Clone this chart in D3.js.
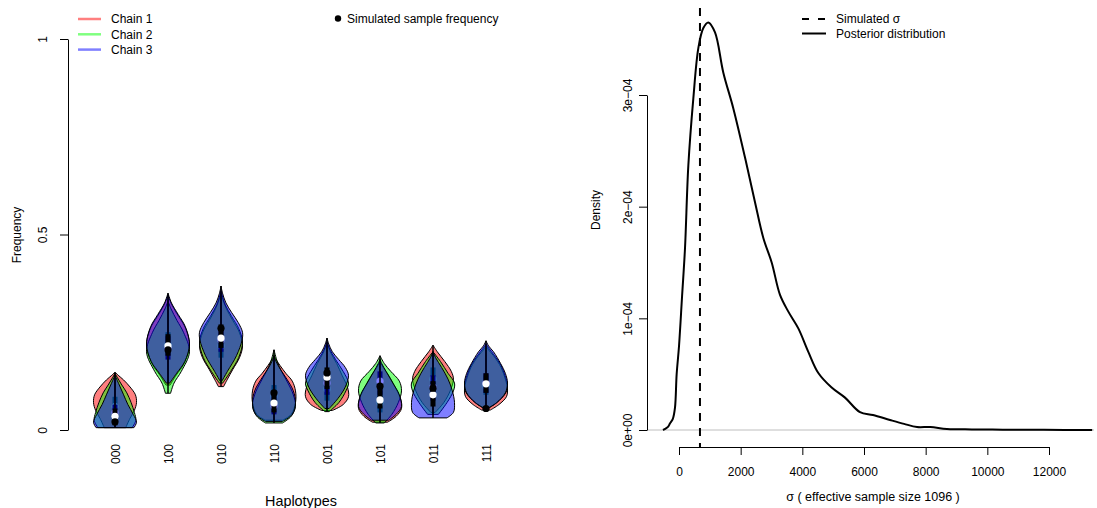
<!DOCTYPE html>
<html>
<head>
<meta charset="utf-8">
<script src="https://cdn.jsdelivr.net/npm/d3@7"></script>
<style>
  body { margin: 0; background: #fff; }
  text { font-family: "Liberation Sans", Arial, sans-serif; font-size: 12px; fill: #000; }
</style>
</head>
<body>
<script>
// haplotype categories and simulated sample frequency
const haplotypes = ['000', '100', '010', '110', '001', '101', '011', '111']
const simFreq = [0.021, 0.205, 0.26, 0.095, 0.146, 0.112, 0.107, 0.055]
const freqTicks = [0, 0.5, 1]
const freqTickLabels = ['0', '0.5', '1']

// violin outlines per chain: [frequency, relative half width]
const chain1Violins = [
  [[0.006,0.5],[0.03,0.7],[0.05,0.9],[0.07,1],[0.09,0.95],[0.11,0.7],[0.128,0.4],[0.14,0.15],[0.148,0]],
  [[0.115,0.1],[0.14,0.38],[0.17,0.75],[0.215,1],[0.26,0.82],[0.29,0.5],[0.32,0.18],[0.345,0]],
  [[0.111,0.12],[0.13,0.3],[0.155,0.55],[0.185,0.86],[0.215,1],[0.25,0.85],[0.28,0.55],[0.31,0.25],[0.335,0.08],[0.35,0]],
  [[0.025,0.4],[0.04,0.8],[0.07,1],[0.1,1],[0.125,0.85],[0.145,0.55],[0.165,0.28],[0.18,0.1],[0.19,0]],
  [[0.05,0.25],[0.065,0.75],[0.085,1],[0.11,0.95],[0.14,0.7],[0.17,0.45],[0.2,0.15],[0.225,0]],
  [[0.02,0.35],[0.035,0.75],[0.055,1],[0.08,0.95],[0.11,0.7],[0.14,0.4],[0.16,0.15],[0.175,0]],
  [[0.045,0.1],[0.07,0.5],[0.1,0.8],[0.13,0.95],[0.15,0.85],[0.175,0.55],[0.2,0.2],[0.217,0]],
  [[0.051,0.2],[0.065,0.6],[0.085,0.95],[0.105,1],[0.13,0.9],[0.16,0.7],[0.19,0.35],[0.205,0.12],[0.215,0]]
]
const chain2Violins = [
  [[0.006,0.8],[0.025,0.97],[0.045,0.9],[0.07,0.75],[0.095,0.55],[0.115,0.32],[0.135,0.1],[0.145,0]],
  [[0.094,0.12],[0.12,0.28],[0.15,0.62],[0.2,1],[0.25,0.72],[0.28,0.42],[0.31,0.14],[0.33,0]],
  [[0.12,0.08],[0.15,0.45],[0.185,0.82],[0.225,1],[0.26,0.82],[0.29,0.5],[0.32,0.2],[0.345,0.05],[0.355,0]],
  [[0.018,0.4],[0.035,0.8],[0.06,1],[0.09,0.9],[0.12,0.65],[0.15,0.35],[0.175,0.15],[0.205,0]],
  [[0.047,0.1],[0.07,0.55],[0.1,0.88],[0.12,1],[0.15,0.75],[0.18,0.4],[0.21,0.1],[0.225,0]],
  [[0.018,0.2],[0.04,0.55],[0.07,0.85],[0.1,1],[0.125,0.9],[0.15,0.5],[0.17,0.2],[0.19,0]],
  [[0.04,0.25],[0.07,0.65],[0.1,0.95],[0.12,1],[0.145,0.7],[0.175,0.35],[0.2,0]],
  [[0.055,0.1],[0.07,0.5],[0.095,0.92],[0.115,1],[0.14,0.88],[0.165,0.7],[0.19,0.4],[0.21,0.12],[0.22,0]]
]
const chain3Violins = [
  [[0.006,0.88],[0.02,1],[0.04,0.85],[0.065,0.6],[0.09,0.4],[0.115,0.2],[0.14,0]],
  [[0.12,0.08],[0.145,0.4],[0.175,0.78],[0.22,1],[0.265,0.8],[0.295,0.48],[0.325,0.16],[0.35,0]],
  [[0.125,0.04],[0.15,0.3],[0.19,0.72],[0.23,0.98],[0.25,1],[0.275,0.8],[0.3,0.5],[0.325,0.23],[0.35,0.07],[0.368,0]],
  [[0.022,0.4],[0.04,0.85],[0.07,1],[0.1,0.9],[0.13,0.6],[0.155,0.3],[0.175,0.1],[0.19,0]],
  [[0.055,0.1],[0.08,0.5],[0.11,0.85],[0.14,1],[0.16,0.85],[0.18,0.55],[0.2,0.25],[0.22,0.08],[0.235,0]],
  [[0.025,0.4],[0.04,0.75],[0.06,1],[0.09,0.9],[0.12,0.6],[0.15,0.28],[0.17,0.08],[0.18,0]],
  [[0.031,0.65],[0.045,0.95],[0.07,1],[0.1,0.9],[0.13,0.7],[0.16,0.4],[0.185,0.12],[0.2,0]],
  [[0.056,0.1],[0.07,0.5],[0.095,0.9],[0.12,1],[0.145,0.9],[0.17,0.68],[0.2,0.35],[0.215,0.12],[0.228,0]]
]

// box per chain: [q1, median, q3]
const chain1Boxes = [[0.04,0.06,0.085],[0.19,0.218,0.25],[0.185,0.215,0.245],[0.055,0.085,0.115],
  [0.075,0.105,0.14],[0.045,0.07,0.1],[0.09,0.13,0.16],[0.09,0.112,0.14]]
const chain2Boxes = [[0.02,0.045,0.065],[0.18,0.208,0.24],[0.2,0.23,0.26],[0.04,0.062,0.095],
  [0.09,0.12,0.15],[0.09,0.125,0.15],[0.075,0.11,0.14],[0.095,0.12,0.145]]
const chain3Boxes = [[0.012,0.035,0.055],[0.19,0.215,0.245],[0.21,0.235,0.27],[0.045,0.069,0.1],
  [0.105,0.135,0.16],[0.055,0.077,0.11],[0.06,0.09,0.125],[0.095,0.118,0.145]]

const chainNames = ['Chain 1', 'Chain 2', 'Chain 3']
const chainColors = ['rgba(255,0,0,0.5)', 'rgba(0,255,0,0.5)', 'rgba(0,0,255,0.5)']

// posterior density of sigma
const sigmaGrid = [-520, -450, -350, -290, -200, -130, -76, 0, 100, 195, 303, 465, 627, 789, 951, 1168,
  1438, 1762, 2141, 2465, 2735, 3006, 3276, 3546, 3870, 4194, 4519, 4951, 5384, 5870, 6292, 6843,
  7300, 7719, 8151, 8690, 9500, 10500, 11500, 12500, 13400]
const sigmaDensity = [0, 0.01e-4, 0.03e-4, 0.06e-4, 0.1e-4, 0.2e-4, 0.5e-4, 0.75e-4, 1.2e-4, 1.63e-4,
  2.37e-4, 2.97e-4, 3.42e-4, 3.6e-4, 3.65e-4, 3.56e-4, 3.2e-4, 2.88e-4, 2.44e-4, 2.04e-4, 1.72e-4,
  1.5e-4, 1.21e-4, 1.06e-4, 0.91e-4, 0.7e-4, 0.51e-4, 0.38e-4, 0.29e-4, 0.16e-4, 0.134e-4, 0.09e-4,
  0.055e-4, 0.027e-4, 0.027e-4, 0.01e-4, 0.005e-4, 0.003e-4, 0.002e-4, 0.001e-4, 0]
const simSigma = 680
const sigmaTicks = [0, 2000, 4000, 6000, 8000, 10000, 12000]
const densityTicks = [0, 1e-4, 2e-4, 3e-4]
const densityTickLabels = ['0e+00', '1e\u221204', '2e\u221204', '3e\u221204']

let svg = d3.select('body')
  .append('svg')
  .attr('width', 1097)
  .attr('height', 508)

// ---------- left panel: violins ----------
let xL = d3.scalePoint().domain(haplotypes).range([115, 486])
let yL = d3.scaleLinear().domain([0, 1]).range([430, 39])
let wL = d3.scaleLinear().domain([0, 1]).range([0, 21.5])

let yAxisL = d3.axisLeft(yL).tickValues(freqTicks)
  .tickFormat((d, i) => freqTickLabels[i]).tickSize(8).tickSizeOuter(0)
let gyL = svg.append('g').attr('transform', 'translate(68,0)').call(yAxisL)
gyL.selectAll('text')
  .attr('transform', 'rotate(-90)')
  .attr('x', 0).attr('y', -21).attr('dy', 0)
  .attr('text-anchor', 'middle')

let chains = [
  { violins: chain1Violins, boxes: chain1Boxes },
  { violins: chain2Violins, boxes: chain2Boxes },
  { violins: chain3Violins, boxes: chain3Boxes },
]

chains.forEach((chain, c) => {
  haplotypes.forEach((h, i) => {
    let cx = xL(h)
    let shape = chain.violins[i]
    let area = d3.area()
      .y(d => yL(d[0]))
      .x0(d => cx - wL(d[1]))
      .x1(d => cx + wL(d[1]))
      .curve(d3.curveCatmullRom)
    let g = svg.append('g')
    g.append('path')
      .attr('d', area(shape))
      .attr('fill', chainColors[c])
      .attr('stroke', '#000')
      .attr('stroke-width', 1)
    g.append('line')
      .attr('x1', cx).attr('x2', cx)
      .attr('y1', yL(shape[0][0])).attr('y2', yL(shape[shape.length - 1][0]))
      .attr('stroke', '#000')
      .attr('stroke-width', 1.5)
    let b = chain.boxes[i]
    g.append('rect')
      .attr('x', cx - 2.5).attr('width', 5)
      .attr('y', yL(b[2])).attr('height', yL(b[0]) - yL(b[2]))
      .attr('fill', '#000')
    g.append('circle')
      .attr('cx', cx).attr('cy', yL(b[1])).attr('r', 3.6)
      .attr('fill', '#fff')
  })
})

svg.selectAll('.sim')
  .data(simFreq)
  .enter()
  .append('circle')
  .attr('class', 'sim')
  .attr('cx', (d, i) => xL(haplotypes[i]))
  .attr('cy', d => yL(d))
  .attr('r', 3.6)
  .attr('fill', '#000')

svg.selectAll('.hap')
  .data(haplotypes)
  .enter()
  .append('text')
  .attr('class', 'hap')
  .attr('transform', d => 'translate(' + (xL(d) + 4.5) + ',444)rotate(-90)')
  .attr('text-anchor', 'end')
  .text(d => d)

svg.append('text')
  .attr('x', 301).attr('y', 506)
  .attr('text-anchor', 'middle')
  .style('font-size', '14.4px')
  .text('Haplotypes')

svg.append('text')
  .attr('transform', 'translate(21,235)rotate(-90)')
  .attr('text-anchor', 'middle')
  .text('Frequency')

// left legends
chainNames.forEach((name, i) => {
  let y = 19 + i * 15.3
  svg.append('line')
    .attr('x1', 78).attr('x2', 101)
    .attr('y1', y).attr('y2', y)
    .attr('stroke', chainColors[i])
    .attr('stroke-width', 2.5)
  svg.append('text')
    .attr('x', 111).attr('y', y + 4.3)
    .text(name)
})
svg.append('circle')
  .attr('cx', 338).attr('cy', 18.5).attr('r', 3.2)
  .attr('fill', '#000')
svg.append('text')
  .attr('x', 347).attr('y', 23)
  .text('Simulated sample frequency')

// ---------- right panel: posterior density ----------
let xR = d3.scaleLinear().domain([0, 12000]).range([679, 1049])
let yR = d3.scaleLinear().domain([0, 3e-4]).range([430, 95])

svg.append('line')
  .attr('x1', 647).attr('x2', 1094)
  .attr('y1', yR(0)).attr('y2', yR(0))
  .attr('stroke', '#bebebe')
  .attr('stroke-width', 1)

let line = d3.line()
  .x(d => xR(d[0]))
  .y(d => yR(d[1]))
  .curve(d3.curveCatmullRom)

svg.append('path')
  .attr('d', line(sigmaGrid.map((s, i) => [s, sigmaDensity[i]])))
  .attr('fill', 'none')
  .attr('stroke', '#000')
  .attr('stroke-width', 2)

svg.append('line')
  .attr('x1', xR(simSigma)).attr('x2', xR(simSigma))
  .attr('y1', 8).attr('y2', 447)
  .attr('stroke', '#000')
  .attr('stroke-width', 2)
  .attr('stroke-dasharray', '8,7')

let yAxisR = d3.axisLeft(yR).tickValues(densityTicks)
  .tickFormat((d, i) => densityTickLabels[i]).tickSize(8).tickSizeOuter(0)
let gyR = svg.append('g').attr('transform', 'translate(647,0)').call(yAxisR)
gyR.selectAll('text')
  .attr('transform', 'rotate(-90)')
  .attr('x', 0).attr('y', -15).attr('dy', 0)
  .attr('text-anchor', 'middle')

let xAxisR = d3.axisBottom(xR).tickValues(sigmaTicks)
  .tickFormat(d3.format('d')).tickSize(8).tickSizeOuter(0)
let gxR = svg.append('g').attr('transform', 'translate(0,447)').call(xAxisR)
gxR.selectAll('text').attr('y', 29).attr('dy', 0)

svg.selectAll('.domain, .tick line').attr('stroke', '#000')
svg.selectAll('.tick text').style('font-size', '12px')
  .style('font-family', '"Liberation Sans", Arial, sans-serif')

svg.append('text')
  .attr('x', 873).attr('y', 501)
  .attr('text-anchor', 'middle')
  .style('font-size', '12.5px')
  .text('\u03c3 ( effective sample size 1096 )')

svg.append('text')
  .attr('transform', 'translate(600,210)rotate(-90)')
  .attr('text-anchor', 'middle')
  .text('Density')

// right legend
svg.append('line')
  .attr('x1', 802).attr('x2', 826)
  .attr('y1', 19).attr('y2', 19)
  .attr('stroke', '#000').attr('stroke-width', 2)
  .attr('stroke-dasharray', '7,9')
svg.append('text')
  .attr('x', 836).attr('y', 23)
  .text('Simulated \u03c3')
svg.append('line')
  .attr('x1', 802).attr('x2', 826)
  .attr('y1', 33.5).attr('y2', 33.5)
  .attr('stroke', '#000').attr('stroke-width', 2)
svg.append('text')
  .attr('x', 836).attr('y', 38)
  .text('Posterior distribution')
</script>
</body>
</html>
